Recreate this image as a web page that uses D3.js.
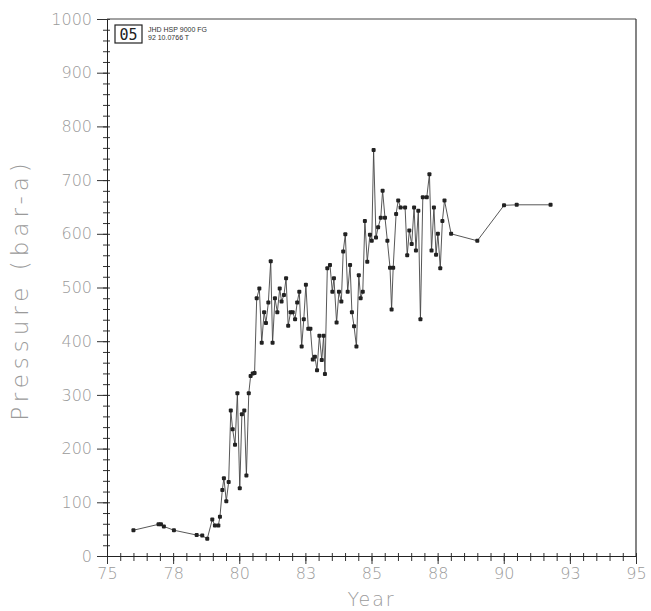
<!DOCTYPE html>
<meta charset="utf-8">
<script src="https://d3js.org/d3.v7.min.js"></script>
<style>
  body { margin: 0; background: #fff; }
  .tick text { font-family: "DejaVu Sans", sans-serif; font-weight: 200; fill: #9a9a9a; }
</style>
<div id="my_dataviz"></div>
<script>

// year of each reading
var years = [76.0, 76.95, 77.04, 77.15, 77.53, 78.39, 78.6, 78.79, 78.98, 79.08,
  79.21, 79.27, 79.36, 79.42, 79.51, 79.6, 79.68, 79.75, 79.84, 79.93,
  80.02, 80.1, 80.19, 80.27, 80.36, 80.43, 80.51, 80.58, 80.66, 80.76,
  80.85, 80.94, 81.01, 81.1, 81.19, 81.26, 81.35, 81.44, 81.53, 81.6,
  81.69, 81.77, 81.85, 81.94, 82.02, 82.11, 82.19, 82.27, 82.36, 82.44,
  82.52, 82.61, 82.69, 82.78, 82.86, 82.94, 83.03, 83.12, 83.19, 83.24,
  83.33, 83.43, 83.52, 83.58, 83.68, 83.77, 83.86, 83.93, 84.01, 84.1,
  84.19, 84.26, 84.34, 84.43, 84.52, 84.59, 84.67, 84.75, 84.84, 84.94,
  85.01, 85.08, 85.17, 85.25, 85.35, 85.42, 85.51, 85.6, 85.7, 85.76,
  85.82, 85.93, 86.01, 86.1, 86.27, 86.35, 86.43, 86.52, 86.61, 86.68,
  86.77, 86.85, 86.94, 87.09, 87.19, 87.27, 87.36, 87.44, 87.51, 87.6,
  87.68, 87.76, 88.01, 89.0, 90.01, 90.49, 91.77];

// pressure, bar-a
var pressure = [48, 59, 59, 55, 48, 39, 38, 32, 68, 57,
  57, 73, 123, 145, 102, 138, 271, 236, 207, 303,
  126, 264, 271, 150, 303, 335, 340, 341, 480, 498,
  397, 454, 434, 472, 549, 397, 480, 454, 498, 474,
  486, 517, 429, 454, 454, 441, 472, 492, 390, 441,
  505, 423, 423, 366, 371, 346, 410, 365, 410, 339,
  536, 542, 492, 517, 435, 492, 474, 567, 599, 492,
  542, 454, 428, 390, 523, 480, 492, 624, 548, 598,
  587, 756, 593, 612, 630, 680, 630, 587, 537, 459,
  537, 637, 662, 649, 649, 560, 606, 581, 649, 569,
  643, 441, 668, 668, 711, 569, 649, 561, 600, 536,
  624, 662, 600, 587, 653, 654, 654];

var xTicks = [75, 77.5, 80, 82.5, 85, 87.5, 90, 92.5, 95];
var xTickLabels = ["75", "78", "80", "83", "85", "88", "90", "93", "95"];
var yTicks = [0, 100, 200, 300, 400, 500, 600, 700, 800, 900, 1000];

var data = years.map(function(y, i) { return {year: y, value: pressure[i]}; });

var margin = {top: 19, right: 15, bottom: 55, left: 107},
    width = 651 - margin.left - margin.right,
    height = 611 - margin.top - margin.bottom;

var svg = d3.select("#my_dataviz")
  .append("svg")
    .attr("width", 651)
    .attr("height", 611)
  .append("g")
    .attr("transform", "translate(" + margin.left + "," + margin.top + ")");

var x = d3.scaleLinear().domain([75, 95]).range([0, width]);
var y = d3.scaleLinear().domain([0, 1000]).range([height, 0]);

// minor ticks first, then major axes on top
svg.append("g")
  .attr("transform", "translate(0," + height + ")")
  .call(d3.axisBottom(x).tickValues(d3.range(75, 95.01, 0.5)).tickSize(5).tickFormat(""))
  .call(function(g) { g.select(".domain").remove(); })
  .selectAll("line").attr("y1", -3).attr("stroke", "#333");

svg.append("g")
  .call(d3.axisLeft(y).tickValues(d3.range(0, 1001, 20)).tickSize(4).tickFormat(""))
  .call(function(g) { g.select(".domain").remove(); })
  .selectAll("line").attr("x1", 3).attr("stroke", "#333");

var xAxis = svg.append("g")
  .attr("transform", "translate(0," + height + ")")
  .call(d3.axisBottom(x).tickValues(xTicks).tickSize(8).tickPadding(4)
    .tickFormat(function(d, i) { return xTickLabels[i]; }));
xAxis.selectAll("text").style("font-size", "16px");

var yAxis = svg.append("g")
  .call(d3.axisLeft(y).tickValues(yTicks).tickSize(10).tickPadding(5).tickFormat(d3.format("d")));
yAxis.selectAll("text").style("font-size", "16px");

[xAxis, yAxis].forEach(function(a) {
  a.select(".domain").attr("stroke", "#222");
  a.selectAll(".tick line").attr("stroke", "#333");
});

// frame top and right
svg.append("line").attr("x1", 0).attr("x2", width).attr("y1", 0).attr("y2", 0)
  .attr("stroke", "#444").attr("stroke-width", 1);
svg.append("line").attr("x1", width).attr("x2", width).attr("y1", 0).attr("y2", height)
  .attr("stroke", "#333").attr("stroke-width", 1.2);

// series
svg.append("path")
  .datum(data)
  .attr("fill", "none")
  .attr("stroke", "#444")
  .attr("stroke-width", 0.9)
  .attr("d", d3.line()
    .x(function(d) { return x(d.year); })
    .y(function(d) { return y(d.value); }));

svg.append("g")
  .selectAll("rect")
  .data(data)
  .enter().append("rect")
    .attr("x", function(d) { return x(d.year) - 2; })
    .attr("y", function(d) { return y(d.value) - 2; })
    .attr("width", 4)
    .attr("height", 4)
    .attr("rx", 1)
    .attr("fill", "#222");

// axis titles
svg.append("text")
  .attr("transform", "translate(" + (-79) + "," + (height / 2 + 2) + ") rotate(-90)")
  .attr("text-anchor", "middle")
  .style("font-family", "DejaVu Sans, sans-serif")
  .style("font-weight", 200)
  .style("font-size", "23px")
  .style("letter-spacing", "5px")
  .style("fill", "#9a9a9a")
  .text("Pressure (bar-a)");

svg.append("text")
  .attr("x", x(85))
  .attr("y", height + 50)
  .attr("text-anchor", "middle")
  .style("font-family", "DejaVu Sans, sans-serif")
  .style("font-weight", 200)
  .style("font-size", "19px")
  .style("letter-spacing", "2px")
  .style("fill", "#9a9a9a")
  .text("Year");

// stamp in the corner
var stamp = svg.append("g").attr("transform", "translate(8,6)");
stamp.append("rect").attr("width", 27).attr("height", 18)
  .attr("fill", "none").attr("stroke", "#222").attr("stroke-width", 1.2);
stamp.append("text").attr("x", 13.5).attr("y", 14.5).attr("text-anchor", "middle")
  .style("font-family", "DejaVu Sans Mono, monospace").style("font-size", "15px")
  .style("fill", "#222").text("05");
stamp.append("text").attr("x", 33).attr("y", 7)
  .style("font-family", "Liberation Sans, sans-serif").style("font-size", "7px")
  .style("fill", "#333").text("JHD HSP 9000 FG");
stamp.append("text").attr("x", 33).attr("y", 15)
  .style("font-family", "Liberation Sans, sans-serif").style("font-size", "7px")
  .style("fill", "#333").text("92 10.0766 T");

</script>
